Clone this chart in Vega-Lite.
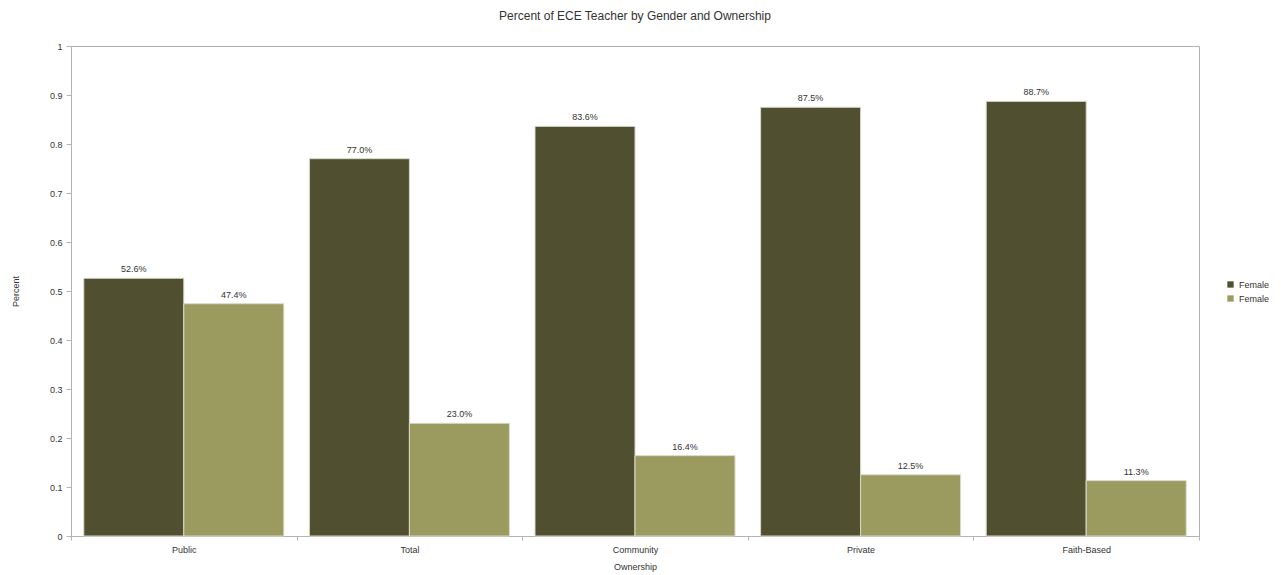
{
  "$schema": "https://vega.github.io/schema/vega-lite/v6.json",
  "width": 1128,
  "height": 490,
  "autosize": {"type": "none"},
  "padding": {"left": 71, "top": 46, "right": 82, "bottom": 39},
  "background": "white",
  "title": {
    "text": "Percent of ECE Teacher by Gender and Ownership",
    "font": "Liberation Sans",
    "fontSize": 12,
    "fontWeight": "normal",
    "color": "#333333",
    "anchor": "middle",
    "offset": 19
  },
  "config": {
    "view": {"stroke": "#b3b3b3", "strokeWidth": 1},
    "font": "Liberation Sans",
    "axis": {
      "labelFont": "Liberation Sans",
      "titleFont": "Liberation Sans",
      "labelFontSize": 9,
      "titleFontSize": 9,
      "titleFontWeight": "normal",
      "labelColor": "#333333",
      "titleColor": "#333333",
      "domainColor": "#b3b3b3",
      "tickColor": "#b3b3b3",
      "grid": false
    }
  },
  "data": {
    "values": [
      {"Ownership": "Public", "Gender": "Female", "Percent": 0.526},
      {"Ownership": "Public", "Gender": "Male", "Percent": 0.474},
      {"Ownership": "Total", "Gender": "Female", "Percent": 0.770},
      {"Ownership": "Total", "Gender": "Male", "Percent": 0.230},
      {"Ownership": "Community", "Gender": "Female", "Percent": 0.836},
      {"Ownership": "Community", "Gender": "Male", "Percent": 0.164},
      {"Ownership": "Private", "Gender": "Female", "Percent": 0.875},
      {"Ownership": "Private", "Gender": "Male", "Percent": 0.125},
      {"Ownership": "Faith-Based", "Gender": "Female", "Percent": 0.887},
      {"Ownership": "Faith-Based", "Gender": "Male", "Percent": 0.113}
    ]
  },
  "encoding": {
    "x": {
      "field": "Ownership",
      "type": "nominal",
      "sort": ["Public", "Total", "Community", "Private", "Faith-Based"],
      "scale": {"paddingInner": 0, "paddingOuter": 0},
      "axis": {
        "title": "Ownership",
        "labelAngle": 0,
        "tickBand": "extent",
        "tickSize": 4,
        "labelPadding": 5,
        "titlePadding": 8
      }
    },
    "xOffset": {"field": "Gender", "type": "nominal", "sort": ["Female", "Male"], "scale": {"paddingInner": 0, "paddingOuter": 0.128}},
    "y": {
      "field": "Percent",
      "type": "quantitative",
      "scale": {"domain": [0, 1], "nice": false},
      "axis": {
        "title": "Percent",
        "values": [0, 0.1, 0.2, 0.3, 0.4, 0.5, 0.6, 0.7, 0.8, 0.9, 1],
        "format": "~g",
        "tickSize": 5,
        "labelPadding": 4,
        "titlePadding": 29
      }
    }
  },
  "layer": [
    {
      "mark": {"type": "bar", "stroke": "#d9d9cc", "strokeWidth": 1},
      "encoding": {
        "color": {
          "field": "Gender",
          "type": "nominal",
          "sort": ["Female", "Male"],
          "scale": {"domain": ["Female", "Male"], "range": ["#504f30", "#9b9a5f"]},
          "legend": {
            "title": null,
            "orient": "none",
            "legendX": 1155,
            "legendY": 234,
            "labelExpr": "'Female'",
            "symbolType": "square",
            "symbolSize": 40,
            "symbolStrokeWidth": 0,
            "labelFont": "Liberation Sans",
            "labelFontSize": 9,
            "labelColor": "#333333",
            "rowPadding": 4
          }
        }
      }
    },
    {
      "mark": {"type": "text", "baseline": "bottom", "dy": -4, "fontSize": 9, "color": "#333333", "font": "Liberation Sans"},
      "encoding": {
        "text": {"field": "Percent", "type": "quantitative", "format": ".1%"}
      }
    }
  ]
}
